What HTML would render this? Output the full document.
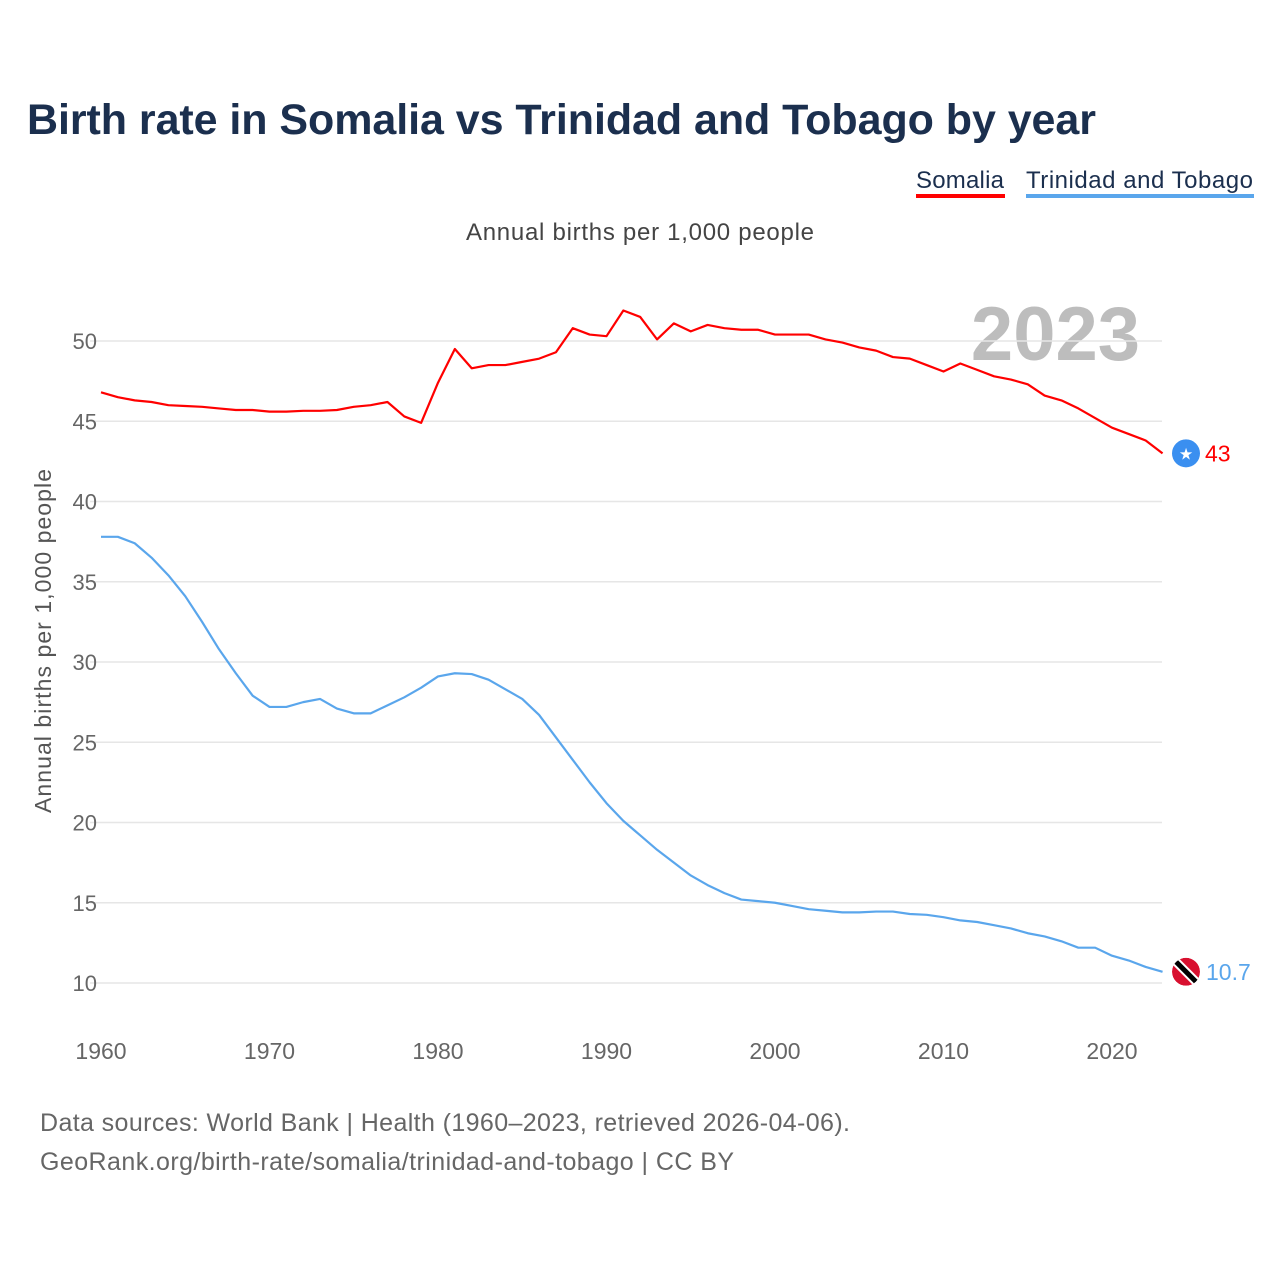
<!DOCTYPE html>
<html><head><meta charset="utf-8"><style>
body{margin:0;background:#fff;font-family:"Liberation Sans",sans-serif;}
#wrap{position:relative;width:1280px;height:1280px;overflow:hidden}
</style></head><body>
<div id="wrap">
<svg id="chart" width="1280" height="1280">
<text x="27" y="134" font-size="43" font-weight="bold" fill="#1b2f4e" textLength="1069">Birth rate in Somalia vs Trinidad and Tobago by year</text>
<g><text x="916" y="188" font-size="24" fill="#1b2f4e" textLength="88">Somalia</text><rect x="916" y="194" width="89" height="4" fill="#ff0000"/></g>
<g><text x="1026" y="188" font-size="24" fill="#1b2f4e" textLength="227">Trinidad and Tobago</text><rect x="1026" y="194" width="228" height="4" fill="#5aa6ec"/></g>
<text x="466" y="240" font-size="24" fill="#444" textLength="348">Annual births per 1,000 people</text>
<text x="1140" y="360" font-size="76" font-weight="bold" fill="#bdbdbd" text-anchor="end">2023</text>
<text transform="translate(51,641) rotate(-90)" font-size="23" fill="#555" text-anchor="middle" textLength="344">Annual births per 1,000 people</text>
<g id="grid"></g><g id="lines"></g><g id="labels"></g>
<text x="40" y="1131" font-size="25" fill="#666" textLength="810">Data sources: World Bank | Health (1960–2023, retrieved 2026-04-06).</text>
<text x="40" y="1170" font-size="25" fill="#666" textLength="694">GeoRank.org/birth-rate/somalia/trinidad-and-tobago | CC BY</text>
</svg></div>
<script>
const startYear=1960;
const yTicks=[10,15,20,25,30,35,40,45,50];
const xTicks=[1960,1970,1980,1990,2000,2010,2020];
const somalia=[46.8,46.5,46.3,46.2,46.0,45.95,45.9,45.8,45.7,45.7,45.6,45.6,45.65,45.65,45.7,45.9,46.0,46.2,45.3,44.9,47.4,49.5,48.3,48.5,48.5,48.7,48.9,49.3,50.8,50.4,50.3,51.9,51.5,50.1,51.1,50.6,51.0,50.8,50.7,50.7,50.4,50.4,50.4,50.1,49.9,49.6,49.4,49.0,48.9,48.5,48.1,48.6,48.2,47.8,47.6,47.3,46.6,46.3,45.8,45.2,44.6,44.2,43.8,43.0];
const trinidad=[37.8,37.8,37.4,36.5,35.4,34.1,32.5,30.8,29.3,27.9,27.2,27.2,27.5,27.7,27.1,26.8,26.8,27.3,27.8,28.4,29.1,29.3,29.25,28.9,28.3,27.7,26.7,25.3,23.9,22.5,21.2,20.1,19.2,18.3,17.5,16.7,16.1,15.6,15.2,15.1,15.0,14.8,14.6,14.5,14.4,14.4,14.45,14.45,14.3,14.25,14.1,13.9,13.8,13.6,13.4,13.1,12.9,12.6,12.2,12.2,11.7,11.4,11.0,10.7];
const X=y=>101+(y-1960)*(1011/60);
const Y=v=>983-(v-10)*16.05;
const NS="http://www.w3.org/2000/svg";
function mk(t,a,p){const e=document.createElementNS(NS,t);for(const k in a)e.setAttribute(k,a[k]);p.appendChild(e);return e;}
const grid=document.getElementById('grid'),lines=document.getElementById('lines'),labels=document.getElementById('labels');
yTicks.forEach(v=>{
 const l=mk('line',{x1:90,x2:1162,y1:Y(v),y2:Y(v),stroke:'#e6e6e6','stroke-width':1.5},grid);
 
 
 const t=mk('text',{x:97,y:Y(v)+8,'font-size':22,fill:'#666','text-anchor':'end'},grid);t.textContent=v;
 
 
});
xTicks.forEach(y=>{
 const t=mk('text',{x:X(y),y:1059,'font-size':23,fill:'#666','text-anchor':'middle'},grid);t.textContent=y;
 
 
});
function line(arr,col,name){
 const p=mk('polyline',{points:arr.map((v,i)=>X(startYear+i)+','+Y(v)).join(' '),fill:'none',stroke:col,'stroke-width':2.2,'stroke-linejoin':'round'},lines);
 
 
}
line(somalia,'#ff0000','somalia-line');
line(trinidad,'#5aa6ec','trinidad-line');
const ls=somalia[somalia.length-1],lt=trinidad[trinidad.length-1];
const m1=mk('circle',{cx:1186,cy:Y(ls),r:14,fill:'#3a8ff0'},labels);


const st=mk('text',{x:1186,y:Y(ls)+6,'font-size':16,fill:'#fff','text-anchor':'middle'},labels);st.textContent='★';
const v1=mk('text',{x:1205,y:Y(ls)+8,'font-size':23,fill:'#ff0000'},labels);v1.textContent=Math.round(ls*10)/10;


const g=mk('g',{},labels);


mk('clipPath',{id:'cp'},g).appendChild(document.createElementNS(NS,'circle'));
const cc=g.querySelector('clipPath circle');cc.setAttribute('cx',1186);cc.setAttribute('cy',Y(lt));cc.setAttribute('r',14);
const gg=mk('g',{'clip-path':'url(#cp)'},g);
mk('circle',{cx:1186,cy:Y(lt),r:14,fill:'#d8102f'},gg);
mk('line',{x1:1172,y1:Y(lt)-14,x2:1200,y2:Y(lt)+14,stroke:'#fff','stroke-width':9},gg);
mk('line',{x1:1172,y1:Y(lt)-14,x2:1200,y2:Y(lt)+14,stroke:'#000','stroke-width':5},gg);
const v2=mk('text',{x:1206,y:Y(lt)+8,'font-size':23,fill:'#5aa6ec'},labels);v2.textContent=lt;


</script>
</body></html>
